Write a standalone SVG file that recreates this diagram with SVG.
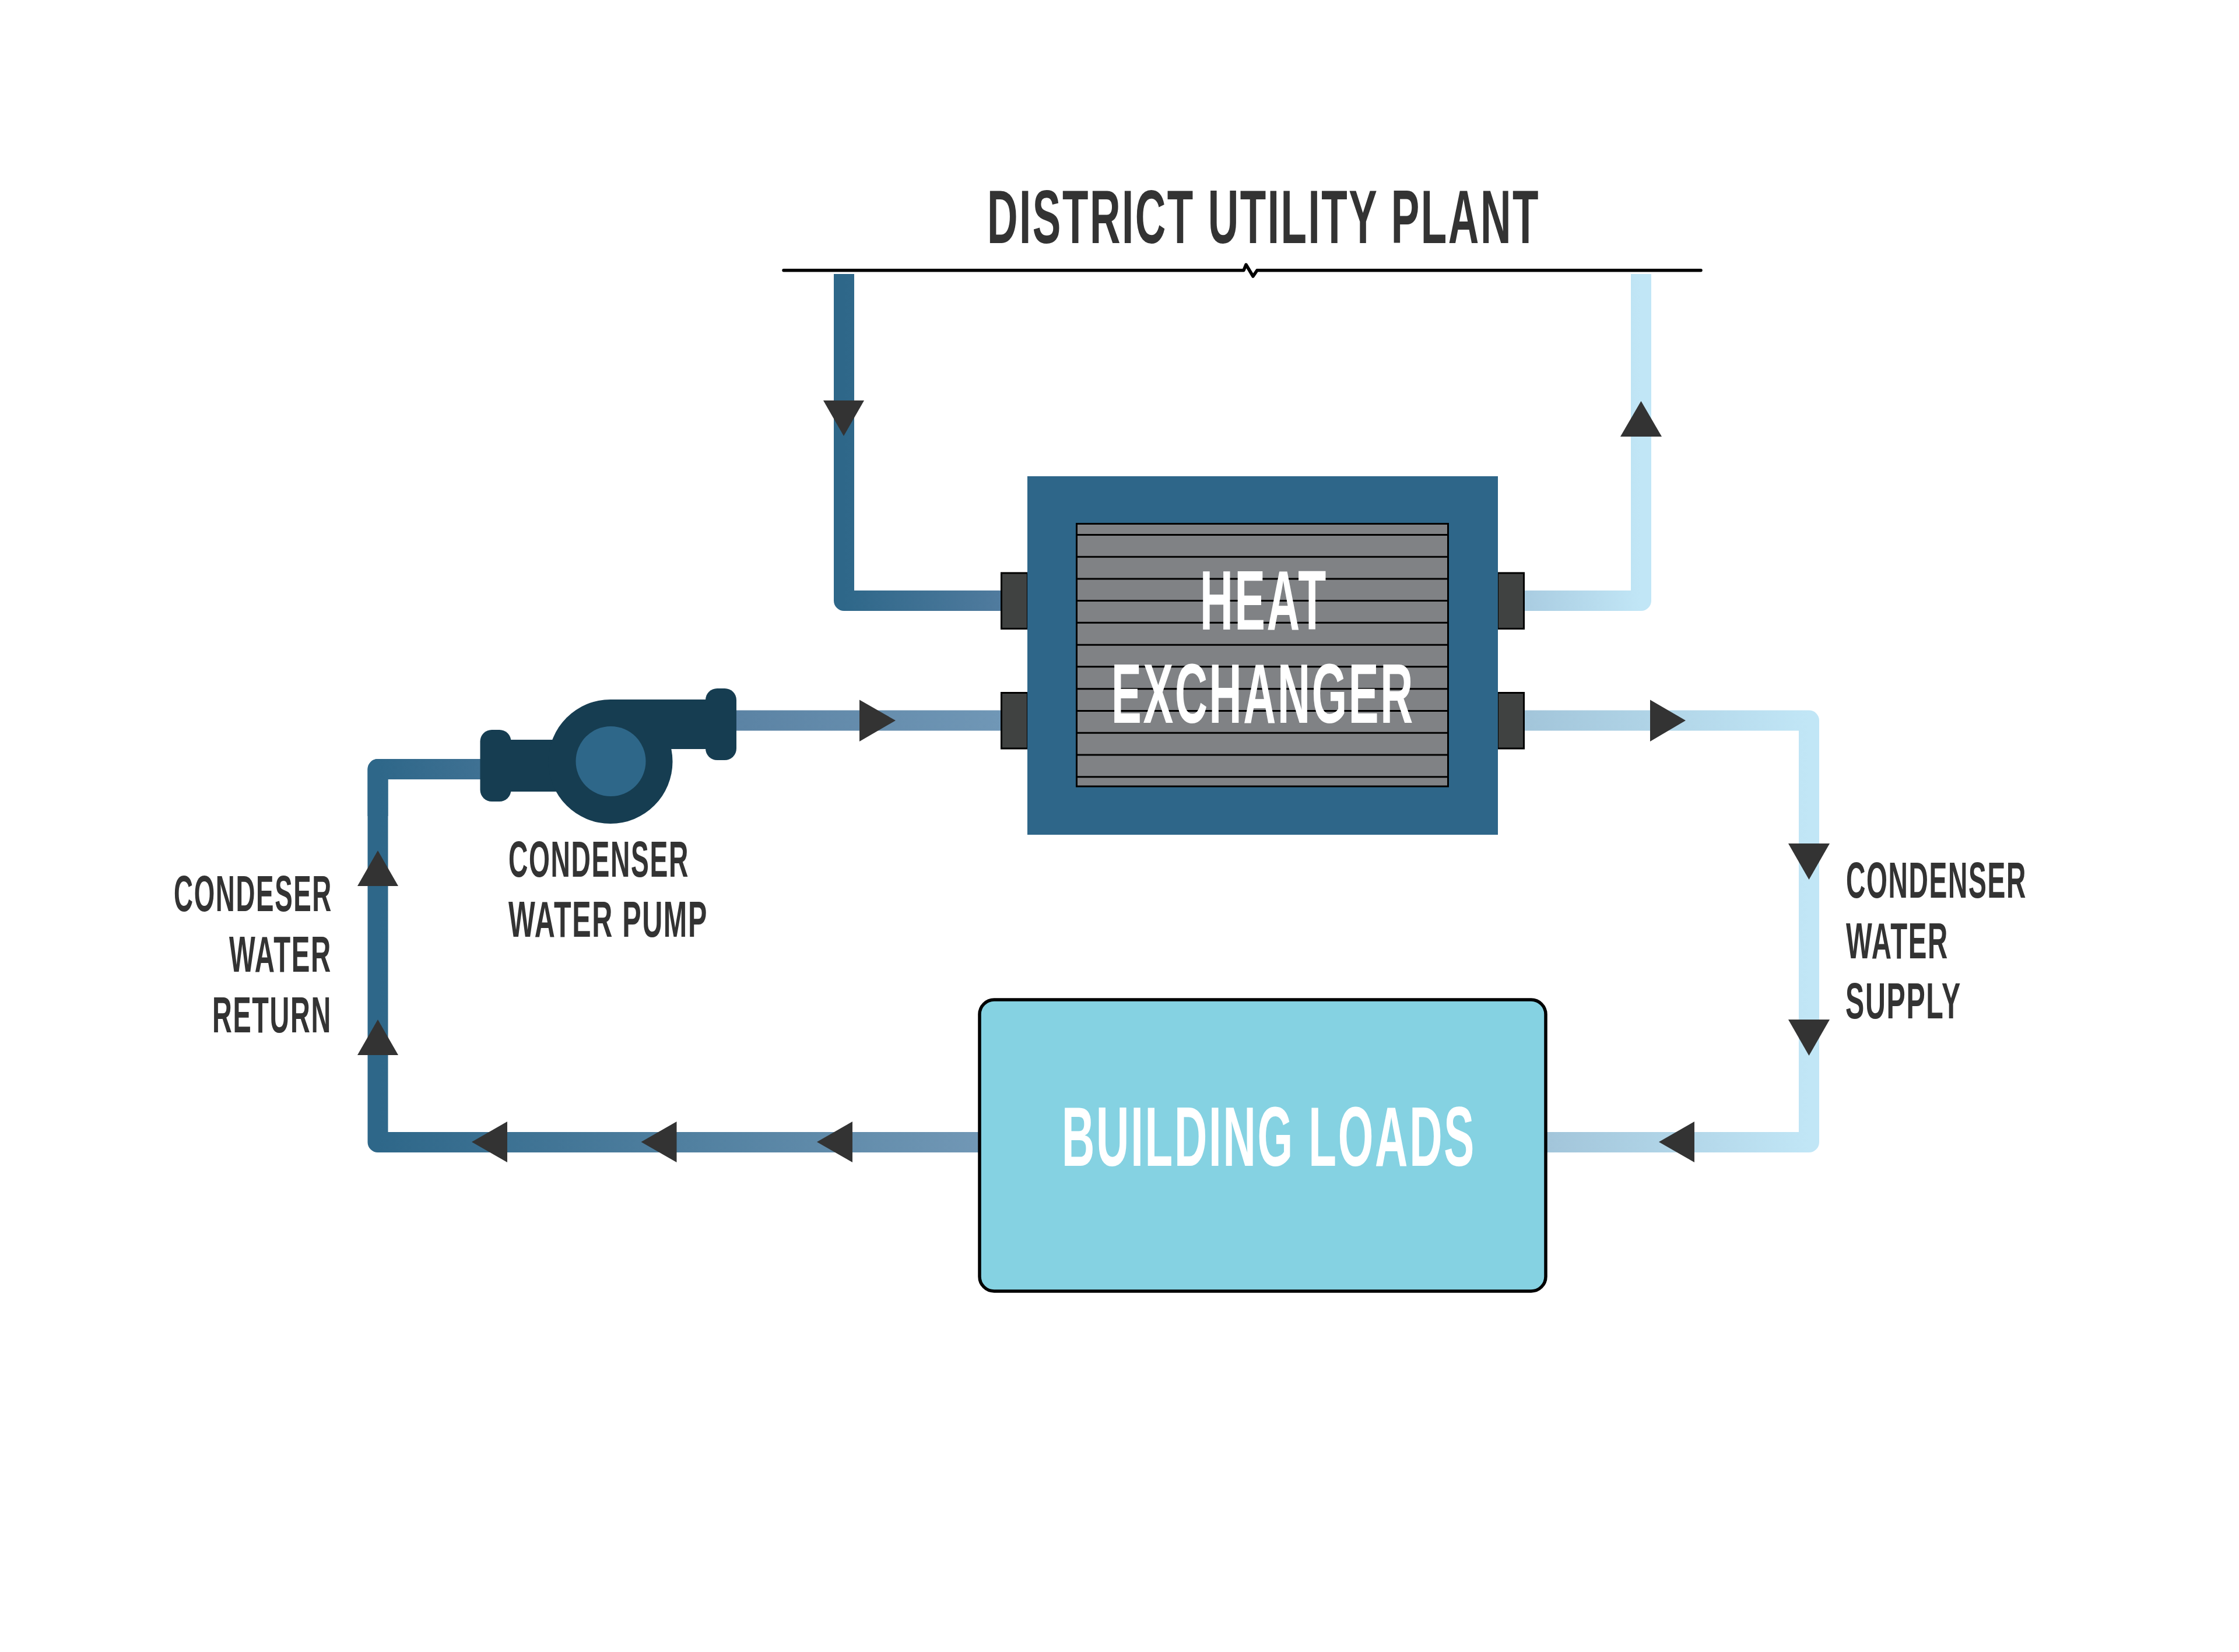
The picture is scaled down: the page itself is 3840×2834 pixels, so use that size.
<svg xmlns="http://www.w3.org/2000/svg" width="3840" height="2834" viewBox="0 0 3840 2834">
<style>
.pipe{fill:none;stroke-width:35;stroke-linejoin:round}
.arrow{fill:#333333}
.port{fill:#404241;stroke:#000;stroke-width:3}
.fin{stroke:#000;stroke-width:3}
.pump{fill:#163d51}
text{font-family:"Liberation Sans",Arial,sans-serif;font-weight:700;letter-spacing:.035em}
.dark{fill:#333333}
.light{fill:#ffffff}
.big{font-size:145px}
.title{font-size:129px}
.small{font-size:87px}
</style>
<defs>
<linearGradient id="gTopL" gradientUnits="userSpaceOnUse" x1="1447" y1="0" x2="1716" y2="0"><stop offset="0" stop-color="#2e6789"/><stop offset="1" stop-color="#507b9e"/></linearGradient>
<linearGradient id="gTopR" gradientUnits="userSpaceOnUse" x1="2614" y1="0" x2="2814" y2="0"><stop offset="0" stop-color="#a9cce1"/><stop offset="1" stop-color="#c1e6f6"/></linearGradient>
<linearGradient id="gPumpL" gradientUnits="userSpaceOnUse" x1="648" y1="0" x2="824" y2="0"><stop offset="0" stop-color="#2e6789"/><stop offset="1" stop-color="#3f7193"/></linearGradient>
<linearGradient id="gPumpR" gradientUnits="userSpaceOnUse" x1="1263" y1="0" x2="1716" y2="0"><stop offset="0" stop-color="#5b83a4"/><stop offset="1" stop-color="#7097b6"/></linearGradient>
<linearGradient id="gMidR" gradientUnits="userSpaceOnUse" x1="2614" y1="0" x2="3102" y2="0"><stop offset="0" stop-color="#a2c5da"/><stop offset="1" stop-color="#c1e6f6"/></linearGradient>
<linearGradient id="gBotR" gradientUnits="userSpaceOnUse" x1="2653" y1="0" x2="3102" y2="0"><stop offset="0" stop-color="#a2c5da"/><stop offset="1" stop-color="#c1e6f6"/></linearGradient>
<linearGradient id="gBotL" gradientUnits="userSpaceOnUse" x1="648" y1="0" x2="1678" y2="0"><stop offset="0" stop-color="#2e6789"/><stop offset="1" stop-color="#7197b5"/></linearGradient>
</defs>
<rect width="3840" height="2834" fill="#ffffff"/>

<g id="connectors">
<path class="pipe" stroke="url(#gTopL)" d="M1447.500 470V1030.500H1716"/>
<path class="pipe" stroke="url(#gTopR)" d="M2814.500 470V1030.500H2614"/>
<path class="pipe" stroke="url(#gPumpR)" d="M1263 1236H1716"/>
<path class="pipe" stroke="url(#gMidR)" d="M2614 1236H3102.500V1700"/>
<path class="pipe" stroke="url(#gBotR)" d="M3102.500 1700V1959.500H2653"/>
<path class="pipe" stroke="url(#gBotL)" d="M1678 1959.500H648V1319.500H824"/>
<path class="pipe" stroke="url(#gPumpL)" d="M648 1400V1319.500H824"/>
<g id="arrows">
<polygon class="arrow" points="1412,687 1482,687 1447,748"/>
<polygon class="arrow" points="2779,749 2850,749 2814.500,688"/>
<polygon class="arrow" points="1474,1200.500 1474,1272 1536,1236"/>
<polygon class="arrow" points="2830,1200.500 2830,1272 2891,1236"/>
<polygon class="arrow" points="3067,1447 3138,1447 3102.500,1509"/>
<polygon class="arrow" points="3067,1749 3138,1749 3102.500,1811"/>
<polygon class="arrow" points="2906,1924 2906,1994 2845,1959"/>
<polygon class="arrow" points="1462,1924 1462,1994 1401,1959"/>
<polygon class="arrow" points="1160.500,1924 1160.500,1994 1099.500,1959"/>
<polygon class="arrow" points="870,1924 870,1994 809,1959"/>
<polygon class="arrow" points="613,1810 683,1810 648,1749"/>
<polygon class="arrow" points="613,1520 683,1520 648,1459"/>
</g>
</g>

<g id="district-utility-plant">
<path d="M1344 463.700H2133L2137 454L2149 474L2156 463.700H2917" fill="none" stroke="#000" stroke-width="5.500" stroke-linecap="round" stroke-linejoin="round"/>
<text class="title dark" x="1693" y="417" textLength="948" lengthAdjust="spacingAndGlyphs">DISTRICT UTILITY PLANT</text>
</g>

<g id="heat-exchanger">
<rect class="port" x="1717.500" y="983" width="45" height="95.500"/>
<rect class="port" x="1717.500" y="1188.500" width="45" height="95.500"/>
<rect class="port" x="2568.500" y="983" width="45" height="95.500"/>
<rect class="port" x="2568.500" y="1188.500" width="45" height="95.500"/>
<rect x="1762" y="817" width="807" height="615" fill="#2e6689"/>
<rect x="1846.500" y="898.500" width="637" height="450.500" fill="#808285" stroke="#000" stroke-width="3"/>
<g class="fin">
<line x1="1846" x2="2484" y1="917.400" y2="917.400"/>
<line x1="1846" x2="2484" y1="955.300" y2="955.300"/>
<line x1="1846" x2="2484" y1="992.900" y2="992.900"/>
<line x1="1846" x2="2484" y1="1030.500" y2="1030.500"/>
<line x1="1846" x2="2484" y1="1068.300" y2="1068.300"/>
<line x1="1846" x2="2484" y1="1106.200" y2="1106.200"/>
<line x1="1846" x2="2484" y1="1143.800" y2="1143.800"/>
<line x1="1846" x2="2484" y1="1181.700" y2="1181.700"/>
<line x1="1846" x2="2484" y1="1219.500" y2="1219.500"/>
<line x1="1846" x2="2484" y1="1257.200" y2="1257.200"/>
<line x1="1846" x2="2484" y1="1295" y2="1295"/>
<line x1="1846" x2="2484" y1="1332.700" y2="1332.700"/>
</g>
<text class="big light" x="2058" y="1080" textLength="219" lengthAdjust="spacingAndGlyphs">HEAT</text>
<text class="big light" x="1906" y="1240" textLength="520" lengthAdjust="spacingAndGlyphs">EXCHANGER</text>
</g>

<g id="building-loads">
<rect x="1680" y="1715" width="971" height="500" rx="25" ry="25" fill="#85d2e2" stroke="#000" stroke-width="5.500"/>
<text class="big light" x="1821" y="2000" textLength="710" lengthAdjust="spacingAndGlyphs">BUILDING LOADS</text>
</g>

<g id="condenser-water-pump">
<rect class="pump" x="823.500" y="1252" width="53" height="123" rx="20" ry="20"/>
<rect class="pump" x="870" y="1269" width="100" height="89"/>
<circle class="pump" cx="1047" cy="1306.500" r="106.500"/>
<rect class="pump" x="1047" y="1200" width="170" height="85"/>
<rect class="pump" x="1210" y="1181" width="53" height="123" rx="20" ry="20"/>
<circle cx="1047.500" cy="1306" r="60" fill="#2e6789"/>
<text class="small dark" x="872" y="1504" textLength="310" lengthAdjust="spacingAndGlyphs">CONDENSER</text>
<text class="small dark" x="872" y="1607" textLength="342" lengthAdjust="spacingAndGlyphs">WATER PUMP</text>
</g>

<g id="condenser-water-supply">
<text class="small dark" x="3166" y="1540" textLength="310" lengthAdjust="spacingAndGlyphs">CONDENSER</text>
<text class="small dark" x="3166" y="1644" textLength="176" lengthAdjust="spacingAndGlyphs">WATER</text>
<text class="small dark" x="3165" y="1747" textLength="199" lengthAdjust="spacingAndGlyphs">SUPPLY</text>
</g>

<g id="condenser-water-return">
<text class="small dark" x="298" y="1563" textLength="272" lengthAdjust="spacingAndGlyphs">CONDESER</text>
<text class="small dark" x="393" y="1667" textLength="176" lengthAdjust="spacingAndGlyphs">WATER</text>
<text class="small dark" x="364" y="1771" textLength="205" lengthAdjust="spacingAndGlyphs">RETURN</text>
</g>
</svg>
